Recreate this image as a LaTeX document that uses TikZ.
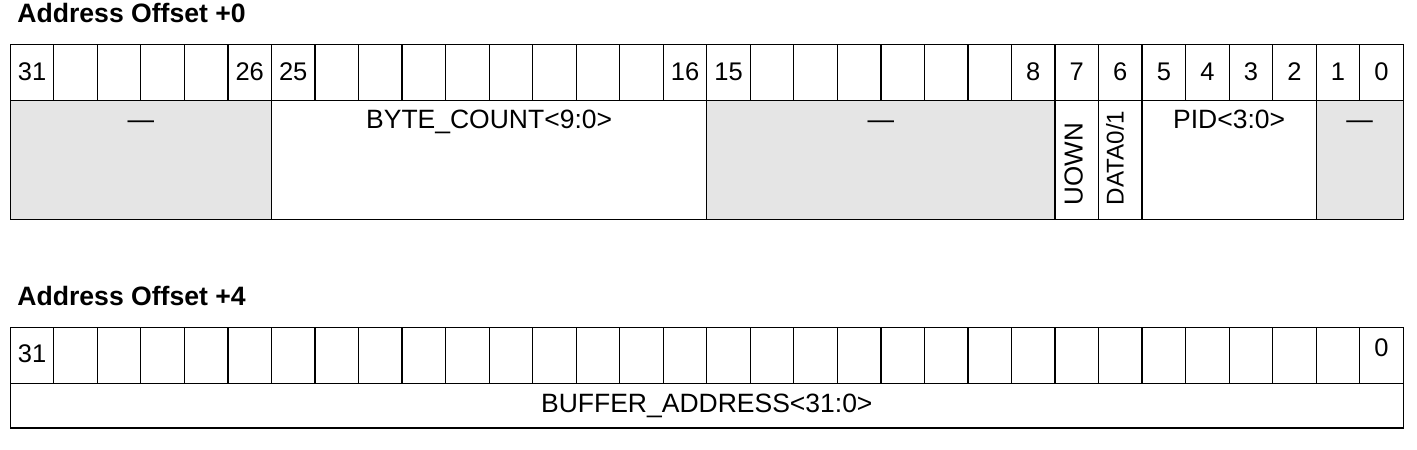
\documentclass[tikz,border=0pt]{standalone}
\usepackage{fontspec}
\setmainfont{Liberation Sans}
\definecolor{resv}{RGB}{229,229,229}
\begin{document}
\begin{tikzpicture}[x=1pt,y=-1pt,line width=1.2pt,
  title/.style={inner sep=0pt,anchor=base west,font=\fontsize{26.6}{30}\selectfont\bfseries},
  bitnum/.style={inner sep=0pt,anchor=base,font=\fontsize{25.5}{30}\selectfont},
  fieldtxt/.style={inner sep=0pt,anchor=base,font=\fontsize{26.5}{30}\selectfont},
  vtxt/.style={inner sep=0pt,anchor=base west,rotate=90,font=\fontsize{26}{30}\selectfont},
  grid/.style={draw=black,line width=1.2pt}]
\useasboundingbox (0,0) rectangle (1417,450);
\def\L{10.3}\def\R{1403.3}\def\W{43.53}
% ---------- table 1 ----------
\def\Ta{44.5}\def\Tb{100.3}\def\Tc{219.3}
\fill[resv] (\L,\Tb) rectangle ({\L+6*\W},\Tc);
\fill[resv] ({\L+16*\W},\Tb) rectangle ({\L+24*\W},\Tc);
\fill[resv] ({\L+30*\W},\Tb) rectangle (\R,\Tc);
\draw[grid] (\L,\Ta) rectangle (\R,\Tc);
\draw[grid] (\L,\Tb) -- (\R,\Tb);
\foreach \i in {1,...,31} \draw[grid] ({\L+\i*\W},\Ta) -- ({\L+\i*\W},\Tb);
\foreach \i in {6,16,24,25,26,30} \draw[grid] ({\L+\i*\W},\Tb) -- ({\L+\i*\W},\Tc);
\node[title] (t0) at (16.8,22.7) {Address Offset +0};
\foreach \i/\t in {0/31,5/26,6/25,15/16,16/15,23/8,24/7,25/6,26/5,27/4,28/3,29/2,30/1,31/0}
  \node[bitnum] (a\i) at ({\L+\i*\W+\W/2},80.5) {\t};
\node[fieldtxt] (f0) at ({\L+3*\W},128.3) {—};
\node[fieldtxt] (f1) at ({\L+11*\W},128.3) {BYTE\_COUNT<9:0>};
\node[fieldtxt] (f2) at ({\L+20*\W},128.3) {—};
\node[vtxt] (f3) at (1082.5,206) {UOWN};
\node[vtxt,font=\fontsize{24.2}{30}\selectfont] (f4) at (1123.5,206) {DATA0/1};
\node[fieldtxt] (f5) at ({\L+28*\W},128.3) {PID<3:0>};
\node[fieldtxt] (f6) at ({\L+31*\W},128.3) {—};
% ---------- table 2 ----------
\def\Sa{327.3}\def\Sb{383.5}\def\Sc{428}
\draw[grid] (\L,\Sa) rectangle (\R,\Sc);
\draw[grid] (\L,\Sb) -- (\R,\Sb);
\foreach \i in {1,...,31} \draw[grid] ({\L+\i*\W},\Sa) -- ({\L+\i*\W},\Sb);
\node[title] (t4) at (16.8,305.7) {Address Offset +4};
\node[bitnum] (c0) at ({\L+0.5*\W},362.8) {31};
\node[bitnum] (c31) at ({\L+31.5*\W},356.7) {0};
\node[fieldtxt] (g0) at ({(\L+\R)/2},412.3) {BUFFER\_ADDRESS<31:0>};
\end{tikzpicture}
\end{document}
